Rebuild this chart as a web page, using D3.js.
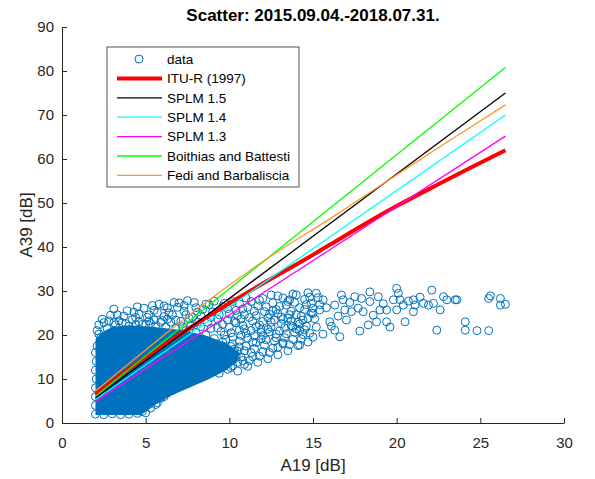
<!DOCTYPE html>
<html>
<head>
<meta charset="utf-8">
<script src="https://cdn.jsdelivr.net/npm/d3@7"></script>
<style>
  body { margin: 0; background: #fff; }
  svg { display: block; font-family: "Liberation Sans", Arial, sans-serif; }
</style>
</head>
<body>
<div id="container"></div>
<script>
// tick values
var xTicks = [0, 5, 10, 15, 20, 25, 30];
var yTicks = [0, 10, 20, 30, 40, 50, 60, 70, 80, 90];

// region where the markers overlap into solid colour (A19, A39)
var coreOutline = [[2.0,1.8],[4.7,1.8],[5.1,2.8],[5.6,4.2],[6.5,6.2],[7.6,8.0],[8.8,10.0],[9.8,12.0],[10.5,14.0],
  [10.6,16.0],[9.8,18.2],[8.5,20.0],[7.0,21.2],[5.5,21.8],[4.0,22.2],[3.0,21.8],[2.4,20.6],[2.0,19.0]];

// scatter points (A19, A39)
var edgePts = [[2,2],[2.5,1.9],[3,2.1],[3.5,1.9],[4,2.0],[4.5,2.2],[4.8,2.6],
  [2,4],[2,6],[2,8],[2.05,10],[2,12],[2.05,14],[2,16],[2.1,17.5],[2.3,19.3],
  [5.0,2.3],[5.3,3.4],[5.6,4.2],[5.9,5.6],[5.7,4.6],[6.1,6.0],[6.3,6.8],[6.6,7.4],[7.0,8.3],[7.2,9.3],
  [7.6,9.8],[8.0,10.4],[8.3,11.2],[8.7,12.0],[9.1,12.8],[9.5,13.6],[6.6,8.4],[7.5,9.0],[9.4,11.3],[9.9,12.2],
  [2.2,20.2],[2.7,21.5],[3.2,22.3],[3.8,22.6],[4.4,22.3],[5.0,22.4],[5.6,22.0],[6.2,21.8],[6.8,21.5],
  [7.4,21.0],[8.0,20.6],[8.6,20.0],[9.1,19.2],[9.6,18.4],[10.1,17.4],[10.5,16.3],[10.7,15.0],[10.5,13.8],[10.1,12.6]];

var upperLeftPts = [[2.1,21.0],[2.2,22.3],[2.5,22.8],[2.9,24.5],[2.8,23.2],[3.3,24.6],[3.6,22.8],[3.9,25.5],
  [4.2,23.5],[4.5,26.4],[4.6,24.8],[4.8,22.4],[5.1,24.0],[5.4,26.7],[5.7,25.1],[6.0,23.3],[6.3,26.2],
  [6.6,24.6],[7.0,27.3],[7.3,25.4],[7.6,23.8],[8.0,26.2],[8.3,24.4],[8.6,27.0],[9.0,25.2],[9.3,23.6],
  [9.6,26.5],[10.0,24.8],[3.4,23.2],[4.0,22.0],[4.6,23.0],[5.2,24.6],[5.8,27.0],[6.4,25.0],[6.9,26.3],
  [7.5,27.8],[8.1,25.2],[8.8,26.9],[9.4,24.6],[9.9,26.0],[7.8,24.0],[6.1,24.2],
  [5.3,22.6],[5.9,22.9],[6.5,22.9],[7.1,23.1],[7.7,22.0],[8.3,21.9],[8.9,21.5],[9.5,20.8],[9.8,19.0],
  [10.0,21.8],[7.2,21.9],[8.7,22.9],[9.6,22.4],[6.3,23.6],[5.5,23.4],
  [2.4,23.6],[3.1,25.9],[3.7,24.3],[4.3,25.2],[4.9,26.1],[5.5,25.6],[6.1,26.6],[6.7,27.4],[7.3,26.7],
  [7.9,27.4],[8.4,25.8],[9.1,27.7],[9.7,27.2],[8.9,24.0],[7.4,24.6],[6.8,23.4],[5.2,23.2],[4.4,24.0],
  [3.1,22.8],[8.1,22.9],[9.9,23.4],[9.3,21.6],[10.2,19.5],[9.7,20.0]];

var midPts = [[10.2,13.0],[10.5,11.8],[10.8,14.2],[11.1,12.9],[11.4,15.1],[11.7,13.8],[12.0,16.2],[12.3,14.6],
  [12.6,17.0],[12.9,15.5],[13.2,18.0],[13.5,16.4],[13.8,19.0],[14.1,17.6],[14.4,20.1],[14.7,18.4],[15.0,19.5],
  [10.1,20.5],[10.4,22.8],[10.6,18.6],[10.9,21.4],[11.2,24.0],[11.5,19.8],[11.8,22.3],[12.1,25.3],[12.4,20.7],
  [12.7,23.4],[13.0,26.5],[13.3,21.6],[13.6,24.6],[13.9,27.4],[14.2,22.5],[14.5,25.8],[14.8,28.6],[15.1,23.7],
  [15.4,26.9],[10.3,16.8],[10.7,19.9],[11.0,17.5],[11.3,21.0],[11.6,18.3],[11.9,20.6],[12.2,18.9],[12.5,21.8],
  [12.8,19.4],[13.1,22.6],[13.4,20.3],[13.7,23.2],[14.0,21.4],[14.3,24.3],[14.6,22.0],[14.9,25.0],
  [13.2,28.4],[12.6,27.3],[11.7,26.6],[10.8,25.9],[14.0,29.1],[13.6,28.0],[12.9,24.9],[12.3,23.9],[11.4,23.2],
  [10.5,24.4],[10.4,15.3],[10.9,16.4],[11.5,16.9],[12.1,17.7],[12.7,18.6],[13.3,19.4],[13.9,20.6],[14.5,21.2],
  [15.2,21.8],[10.2,18.0],[10.6,21.1],[11.1,19.3],[11.6,21.9],[12.0,19.9],[12.5,22.9],[13.0,20.9],[13.5,23.8],
  [14.1,22.9],[14.7,23.8],[10.3,23.1],[10.9,24.6],[11.5,25.4],[12.2,26.4],[12.8,25.8],[13.4,26.8],[14.2,26.2],
  [14.9,27.2],[15.3,28.5],[13.7,25.4],[12.0,28.3],[11.3,27.6],[10.6,27.1],[12.5,29.1],[11.9,21.2],[12.4,24.7],
  [13.8,21.9],[14.4,23.4],[10.8,22.2],[11.2,14.2],[13.2,18.2],[14.2,17.7],
  [10.9,13.3],[11.3,16.0],[11.8,15.2],[12.4,16.0],[12.9,17.2],[13.6,17.8],[14.3,19.1],[14.8,20.4],[10.6,17.3],
  [11.0,20.4],[11.4,18.4],[11.9,19.1],[12.3,21.3],[12.8,20.2],[13.2,23.6],[13.7,22.1],[14.2,21.0],[14.6,26.9],
  [15.0,24.9],[10.4,25.6],[10.7,23.6],[11.1,26.3],[11.6,24.4],[12.0,23.1],[12.6,25.5],[13.1,24.1],[13.5,27.6],
  [14.0,24.6],[14.5,28.1],[15.0,26.1],[11.0,28.4],[11.8,27.9],[12.9,28.9],[13.8,29.3],[14.7,29.6],[10.2,27.6]];

var farPts = [[15.2,29.5],[15.6,28.0],[15.4,25.7],[16.0,23.0],[16.3,21.1],[16.3,26.8],[16.7,29.1],[16.8,28.0],
  [16.9,25.7],[17.3,25.3],[17.5,28.7],[17.7,26.1],[17.9,28.3],[18.0,25.3],[18.4,29.8],[18.4,27.6],[18.6,24.5],
  [18.9,28.7],[19.0,25.7],[19.4,23.0],[19.4,25.7],[19.8,28.0],[20.0,30.6],[20.1,29.5],[20.2,28.0],[20.4,26.8],
  [20.5,23.0],[20.0,25.7],[21.0,28.0],[21.1,26.8],[21.0,25.3],[21.6,27.2],[21.9,26.8],[22.1,30.2],[22.2,27.2],
  [22.4,21.1],[22.6,25.7],[22.8,28.7],[23.0,28.0],[23.5,28.0],[23.6,28.0],[24.1,23.0],[24.1,21.1],[24.8,21.0],
  [25.5,21.0],[25.5,28.3],[25.6,28.9],[26.2,28.3],[26.2,26.8],[26.5,27.0],[15.6,20.2],[16.6,19.6],[17.8,20.9],
  [18.3,22.3],[19.6,21.8],[16.1,22.0],[17.0,23.4],[18.8,23.0],[15.8,26.2],[16.5,24.3],[17.2,27.4],[19.2,27.1],
  [20.7,27.7],[21.4,28.6]];

// model curves
var fitX     = [2, 26.5];
var splm15   = [5.66, 75.0];
var splm14   = [5.28, 70.0];
var splm13   = [4.92, 65.2];
var boithias = [6.1, 80.8];
var fediX = [2, 5, 8, 12, 16, 20, 23, 26.5];
var fediY = [7.3, 16.6, 25.7, 36.7, 46.4, 56.4, 63.8, 72.3];
var ituX = [2, 4, 6, 8, 10, 12, 14, 16, 18, 20, 22, 24, 26.5];
var ituY = [6.5, 12.3, 17.5, 22.5, 27.2, 31.7, 36.0, 40.5, 45.0, 49.3, 53.3, 57.2, 62.0];

var legendNames = ["data", "ITU-R (1997)", "SPLM 1.5", "SPLM 1.4", "SPLM 1.3", "Boithias and Battesti", "Fedi and Barbaliscia"];

var blue = "#0072bd";
var series = [
  { name: legendNames[1], xs: ituX, ys: ituY, color: "#ff0000", w: 4 },
  { name: legendNames[2], xs: fitX, ys: splm15, color: "#000000", w: 1.3 },
  { name: legendNames[3], xs: fitX, ys: splm14, color: "#00ffff", w: 1.3 },
  { name: legendNames[4], xs: fitX, ys: splm13, color: "#ff00ff", w: 1.3 },
  { name: legendNames[5], xs: fitX, ys: boithias, color: "#00ff00", w: 1.3 },
  { name: legendNames[6], xs: fediX, ys: fediY, color: "#ff9632", w: 1.3 }
];

var W = 595, H = 479;
var x = d3.scaleLinear().domain([0, 30]).range([62, 564]);
var y = d3.scaleLinear().domain([0, 90]).range([423, 27]);

var svg = d3.select("#container").append("svg")
    .attr("width", W).attr("height", H);

// scatter
svg.append("path")
    .datum(coreOutline)
    .attr("d", d3.line().x(function (d) { return x(d[0]); }).y(function (d) { return y(d[1]); }).curve(d3.curveLinearClosed))
    .attr("fill", blue);

var allPts = edgePts.concat(upperLeftPts, midPts, farPts);
svg.append("g").selectAll("circle")
    .data(allPts)
    .enter()
    .append("circle")
    .attr("cx", function (d) { return x(d[0]); })
    .attr("cy", function (d) { return y(d[1]); })
    .attr("r", 4)
    .attr("fill", "none")
    .attr("stroke", blue)
    .attr("stroke-width", 1);

// model lines
series.forEach(function (s) {
    svg.append("path")
        .datum(d3.zip(s.xs, s.ys))
        .attr("d", d3.line().x(function (d) { return x(d[0]); }).y(function (d) { return y(d[1]); }).curve(d3.curveMonotoneX))
        .attr("fill", "none")
        .attr("stroke", s.color)
        .attr("stroke-width", s.w)
        .attr("stroke-linejoin", "round");
});

// axes
var axCol = "#262626";
var gx = svg.append("g")
    .attr("transform", "translate(0," + y(0) + ")")
    .call(d3.axisBottom(x).tickValues(xTicks).tickSizeInner(-5).tickSizeOuter(0).tickPadding(14));
var gy = svg.append("g")
    .attr("transform", "translate(" + x(0) + ",0)")
    .call(d3.axisLeft(y).tickValues(yTicks).tickSizeInner(-5).tickSizeOuter(0).tickPadding(8));
[gx, gy].forEach(function (g) {
    g.selectAll("path, line").attr("stroke", axCol);
    g.selectAll("text").attr("fill", axCol).style("font-size", "15px");
    g.attr("font-family", null);
});

svg.append("text")
    .attr("x", (x(0) + x(30)) / 2).attr("y", 471)
    .attr("text-anchor", "middle")
    .attr("fill", axCol)
    .style("font-size", "17px")
    .text("A19 [dB]");

svg.append("text")
    .attr("transform", "translate(32," + (y(0) + y(90)) / 2 + ") rotate(-90)")
    .attr("text-anchor", "middle")
    .attr("fill", axCol)
    .style("font-size", "17px")
    .text("A39 [dB]");

svg.append("text")
    .attr("x", (x(0) + x(30)) / 2).attr("y", 21)
    .attr("text-anchor", "middle")
    .attr("fill", "#000")
    .style("font-size", "17px")
    .style("font-weight", "bold")
    .text("Scatter: 2015.09.04.-2018.07.31.");

// legend
var leg = svg.append("g").attr("transform", "translate(107,47)");
leg.append("rect")
    .attr("width", 192).attr("height", 140)
    .attr("fill", "#fff")
    .attr("stroke", axCol)
    .attr("stroke-width", 0.8);

var rowY = function (i) { return 12 + i * 19.4; };
leg.append("circle")
    .attr("cx", 32).attr("cy", rowY(0))
    .attr("r", 4)
    .attr("fill", "none").attr("stroke", blue).attr("stroke-width", 1);
series.forEach(function (s, i) {
    leg.append("line")
        .attr("x1", 10).attr("x2", 55)
        .attr("y1", rowY(i + 1)).attr("y2", rowY(i + 1))
        .attr("stroke", s.color)
        .attr("stroke-width", s.w);
});
leg.selectAll("text.lbl")
    .data(legendNames)
    .enter()
    .append("text")
    .attr("class", "lbl")
    .attr("x", 60)
    .attr("y", function (d, i) { return rowY(i); })
    .attr("dy", "0.35em")
    .attr("fill", "#000")
    .style("font-size", "13.5px")
    .text(function (d) { return d; });
</script>
</body>
</html>
